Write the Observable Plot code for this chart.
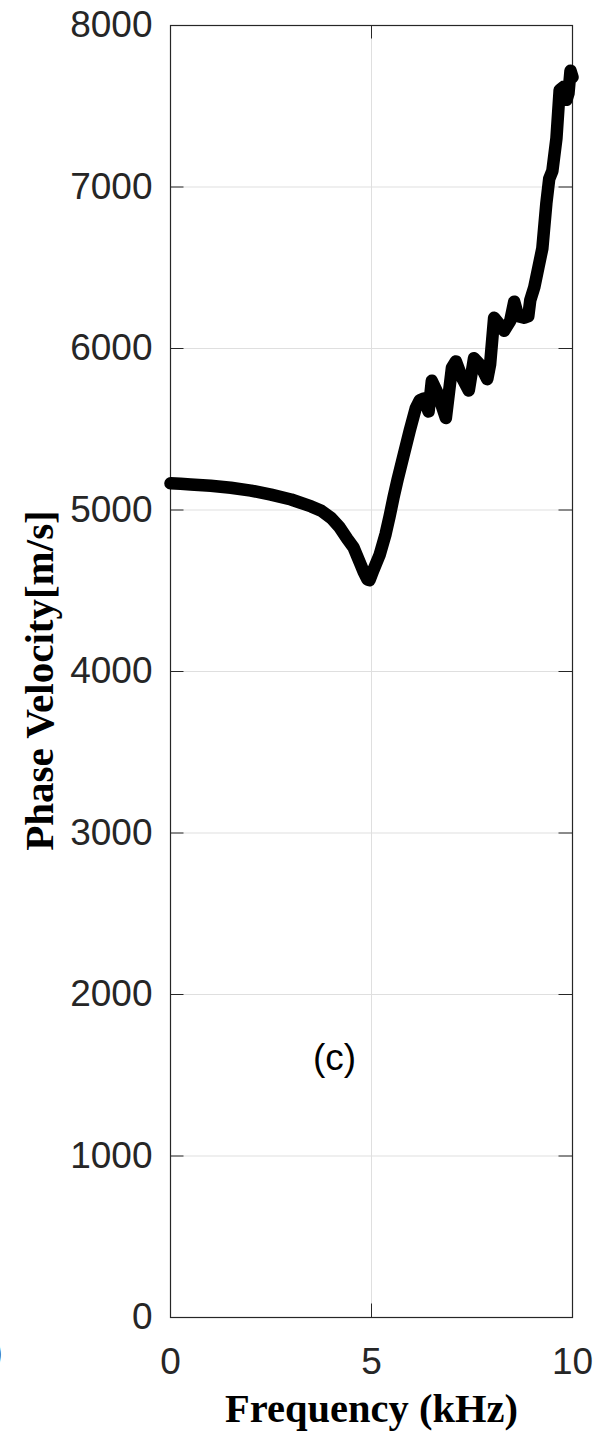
<!DOCTYPE html>
<html>
<head>
<meta charset="utf-8">
<script src="https://cdn.jsdelivr.net/npm/d3@7"></script>
<script src="https://cdn.jsdelivr.net/npm/@observablehq/plot@0.6"></script>
<style>
  html, body { margin: 0; padding: 0; background: #fff; }
  #chart svg { display: block; background: #fff; }
</style>
</head>
<body>
<div id="chart"></div>
<script>
// Frequency (kHz)
const freq = [0.0, 0.25, 0.5, 1.0, 1.5, 2.0, 2.5, 3.0, 3.5, 3.75, 4.0, 4.2, 4.4, 4.55, 4.7, 4.8, 4.9, 4.95,
  5.05, 5.2, 5.35, 5.45, 5.55, 5.65, 5.8, 5.95, 6.1, 6.2, 6.3, 6.42, 6.5, 6.65, 6.85, 7.0, 7.1, 7.25,
  7.42, 7.55, 7.7, 7.88, 7.95, 8.05, 8.15, 8.3, 8.45, 8.55, 8.65, 8.8, 8.9, 8.95, 9.05, 9.15, 9.25,
  9.35, 9.42, 9.5, 9.6, 9.68, 9.78, 9.85, 9.9, 9.95, 10.0];
// Phase velocity (m/s)
const velocity = [5165, 5162, 5158, 5150, 5138, 5120, 5095, 5065, 5022, 4995, 4950, 4895, 4820, 4770, 4680, 4620, 4570, 4565,
  4630, 4720, 4850, 4960, 5080, 5190, 5340, 5490, 5630, 5680, 5690, 5610, 5800, 5720, 5570, 5880, 5920, 5820,
  5740, 5940, 5900, 5810, 5900, 6190, 6160, 6110, 6170, 6290, 6200, 6190, 6200, 6300, 6380, 6500, 6620,
  6900, 7050, 7100, 7300, 7600, 7620, 7540, 7580, 7720, 7680];
const xTicks = [0, 5, 10];
const yTicks = [0, 1000, 2000, 3000, 4000, 5000, 6000, 7000, 8000];
const xLabel = "Frequency (kHz)";
const yLabel = "Phase Velocity[m/s]";
const panelTag = "(c)";
const panelTagPos = {f: 4.08, v: 1604};

const data = freq.map((f, i) => ({f, v: velocity[i]}));

const W = 601, H = 1444;
const mL = 170, mR = 29, mT = 25, mB = 127;
const plotW = W - mL - mR, plotH = H - mT - mB;
const tickLen = 13.5;
const axisColor = "#262626";
const gridColor = "#dfdfdf";
const sans = "'Liberation Sans', Arial, Helvetica, sans-serif";
const serif = "'Liberation Serif', 'Times New Roman', serif";

const chart = Plot.plot({
  width: W,
  height: H,
  marginLeft: mL,
  marginRight: mR,
  marginTop: mT,
  marginBottom: mB,
  style: {fontFamily: sans, fontSize: "37px", color: axisColor, background: "#fff"},
  x: {domain: [0, 10]},
  y: {domain: [0, 8000]},
  marks: [
    Plot.gridX(xTicks, {stroke: gridColor, strokeOpacity: 1}),
    Plot.gridY(yTicks, {stroke: gridColor, strokeOpacity: 1}),
    // inward ticks on all four sides
    Plot.tickX(xTicks, {x: d => d, insetTop: plotH - tickLen, stroke: axisColor}),
    Plot.tickX(xTicks, {x: d => d, insetBottom: plotH - tickLen, stroke: axisColor}),
    Plot.tickY(yTicks, {y: d => d, insetRight: plotW - tickLen, stroke: axisColor}),
    Plot.tickY(yTicks, {y: d => d, insetLeft: plotW - tickLen, stroke: axisColor}),
    Plot.frame({stroke: axisColor, strokeWidth: 1.2}),
    Plot.axisX(xTicks, {tickSize: 0, tickPadding: 30, label: null, fontSize: 37, fill: axisColor}),
    Plot.axisY(yTicks, {tickSize: 0, tickPadding: 18, label: null, fontSize: 37, fill: axisColor, tickFormat: d => String(d)}),
    Plot.line(data, {x: "f", y: "v", stroke: "#000", strokeWidth: 12.5, strokeLinejoin: "round", strokeLinecap: "round"}),
    Plot.text([panelTag], {x: () => panelTagPos.f, y: () => panelTagPos.v, text: d => d, fontSize: 37, fill: "#000", fontFamily: sans}),
    Plot.text([xLabel], {frameAnchor: "bottom", textAnchor: "middle", lineAnchor: "middle", dy: 92, text: d => d,
      fontFamily: serif, fontWeight: "bold", fontSize: 40.5, fill: "#000"}),
    Plot.text([yLabel], {frameAnchor: "left", textAnchor: "middle", lineAnchor: "middle", rotate: -90, dx: -131, dy: 9, text: d => d,
      fontFamily: serif, fontWeight: "bold", fontSize: 41, fill: "#000"}),
    // clipped glyph of neighbouring panel at the left edge
    Plot.text([")"], {frameAnchor: "bottom-left", textAnchor: "start", lineAnchor: "middle", dx: -180, dy: 35, text: d => d,
      fontSize: 37, fill: axisColor})
  ]
});
document.getElementById("chart").appendChild(chart);
</script>
</body>
</html>
